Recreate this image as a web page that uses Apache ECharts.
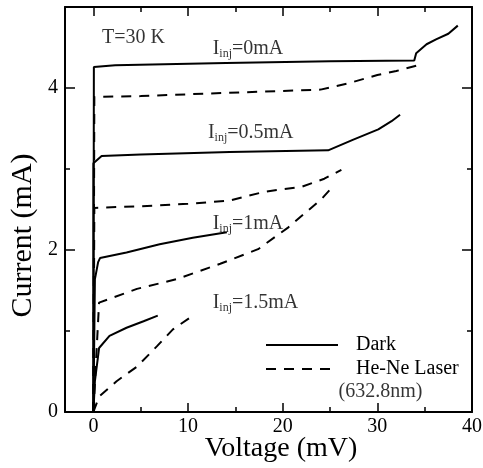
<!DOCTYPE html>
<html><head><meta charset="utf-8">
<script src="https://cdn.jsdelivr.net/npm/echarts@6/dist/echarts.min.js"></script>
<style>html,body{margin:0;padding:0;background:#fff}#c{width:483px;height:468px}</style>
</head><body><div id="c"></div>
<script>
// ---- tick values ----
const xMajorTicks = [0, 10, 20, 30, 40];
const xMinorTicks = [5, 15, 25, 35];
const yMajorTicks = [0, 2, 4];
const yMinorTicks = [1, 3, 5];

// ---- data: [voltage (mV), current (mA)] ----
const dark0 = [[0,0],[0.05,4.26],[2.3,4.28],[14,4.31],[25,4.33],[33.9,4.34],[34.1,4.43],[35.2,4.54],[36.2,4.60],[37.5,4.67],[38.5,4.77]];
const laser0 = [[0,0],[0.1,3.89],[5,3.90],[14,3.94],[24,3.98],[27,4.06],[30,4.16],[32,4.21],[34.3,4.28]];
const dark05 = [[0,0],[0,3.07],[0.87,3.16],[5,3.18],[14.4,3.21],[24.8,3.23],[27.4,3.36],[30.1,3.49],[31.5,3.59],[32.4,3.67]];
const laser05 = [[0,0],[0.1,2.52],[5,2.54],[10,2.57],[14.4,2.61],[18.1,2.72],[22,2.78],[24.4,2.88],[26.2,2.99]];
const dark1 = [[0,0],[0.16,1.64],[0.5,1.85],[0.7,1.90],[3.5,1.97],[7,2.07],[10.5,2.15],[14.1,2.22]];
const laser1 = [[0,0],[0.6,1.35],[4.6,1.52],[8.8,1.64],[13.4,1.83],[17.4,2.01],[20.6,2.28],[22.3,2.45],[24.1,2.63],[25.2,2.77]];
const dark15 = [[0,0],[0.16,0.38],[0.6,0.79],[1.7,0.94],[3.5,1.04],[5.3,1.12],[6.8,1.19]];
const laser15 = [[0,0],[0.6,0.19],[2.45,0.38],[4.6,0.56],[6.7,0.81],[8.4,1.02],[10.4,1.18]];

// ---- annotation texts (anchored in data coordinates) ----
const annotTexts = ['T=30 K', '{i|I}{s|inj}{t|=0mA}', '{i|I}{s|inj}{t|=0.5mA}', '{i|I}{s|inj}{t|=1mA}', '{i|I}{s|inj}{t|=1.5mA}', '(632.8nm)'];
const annotX = [0.9, 12.6, 12.1, 12.6, 12.6, 25.9];
const annotY = [4.62, 4.48, 3.45, 2.32, 1.35, 0.25];

const FONT = '"Liberation Serif", "DejaVu Serif", serif';
const BLACK = '#000';

function xAx(pos, ticks, len, showLine, showLabel, name) {
  const a = {
    type: 'value', min: -3, max: 40, position: pos, gridIndex: 0,
    axisLine: { show: showLine, onZero: false, lineStyle: { color: BLACK, width: 2 } },
    axisTick: { show: true, inside: true, length: len, customValues: ticks, lineStyle: { color: BLACK, width: 1.5 } },
    axisLabel: { show: showLabel, customValues: ticks, color: BLACK, fontSize: 20, fontFamily: FONT, margin: 5 },
    splitLine: { show: false }
  };
  if (name) {
    a.name = name; a.nameLocation = 'middle'; a.nameGap = 23; a.nameMoveOverlap = false;
    a.nameTextStyle = { color: BLACK, fontSize: 28, fontFamily: FONT, padding: [0, 0, 0, 25] };
  }
  return a;
}
function yAx(pos, ticks, len, showLine, showLabel, name) {
  const a = {
    type: 'value', min: 0, max: 5, position: pos, gridIndex: 0,
    axisLine: { show: showLine, onZero: false, lineStyle: { color: BLACK, width: 2 } },
    axisTick: { show: true, inside: true, length: len, customValues: ticks, lineStyle: { color: BLACK, width: 1.5 } },
    axisLabel: { show: showLabel, customValues: ticks, color: BLACK, fontSize: 20, fontFamily: FONT, margin: 7 },
    splitLine: { show: false }
  };
  if (name) {
    a.name = name; a.nameLocation = 'middle'; a.nameGap = 27; a.nameMoveOverlap = false;
    a.nameTextStyle = { color: BLACK, fontSize: 30, fontFamily: FONT, padding: [0, 52, 0, 0] };
  }
  return a;
}

function lineSeries(name, data, dashed) {
  return {
    type: 'line', name: name, data: data, xAxisIndex: 0, yAxisIndex: 0,
    showSymbol: false, symbol: 'none', smooth: false, animation: false,
    lineStyle: { color: BLACK, width: 2, type: dashed ? [10, 8] : 'solid' },
    itemStyle: { color: BLACK }
  };
}

const chart = echarts.init(document.getElementById('c'), null, { renderer: 'canvas' });
chart.setOption({
  backgroundColor: '#fff',
  animation: false,
  grid: { left: 65, right: 11, top: 7, bottom: 56, containLabel: false, outerBoundsMode: 'none' },
  xAxis: [
    xAx('bottom', xMajorTicks, 9, true, true, 'Voltage (mV)'),
    xAx('bottom', xMinorTicks, 5, false, false),
    xAx('top', xMajorTicks, 9, true, false),
    xAx('top', xMinorTicks, 5, false, false)
  ],
  yAxis: [
    yAx('left', yMajorTicks, 10, true, true, 'Current (mA)'),
    yAx('left', yMinorTicks, 5, false, false),
    yAx('right', yMajorTicks, 10, true, false),
    yAx('right', yMinorTicks, 5, false, false)
  ],
  legend: {
    orient: 'vertical', left: 260, top: 329, itemWidth: 72, itemHeight: 14, itemGap: 2,
    data: ['Dark', 'He-Ne Laser'], selectedMode: false,
    itemStyle: { color: 'rgba(0,0,0,0)', borderColor: 'rgba(0,0,0,0)', borderWidth: 0 },
    lineStyle: { color: BLACK, width: 2 },
    textStyle: { color: BLACK, fontSize: 20, fontFamily: FONT, lineHeight: 22, padding: [0, 0, 0, 13] }
  },
  series: [
    lineSeries('Dark', dark0, false),
    lineSeries('He-Ne Laser', laser0, true),
    lineSeries('Dark', dark05, false),
    lineSeries('He-Ne Laser', laser05, true),
    lineSeries('Dark', dark1, false),
    lineSeries('He-Ne Laser', laser1, true),
    lineSeries('Dark', dark15, false),
    lineSeries('He-Ne Laser', laser15, true),
    {
      type: 'scatter', name: 'annotations', xAxisIndex: 0, yAxisIndex: 0, symbolSize: 0, silent: true, animation: false,
      data: annotTexts.map((t, i) => ({ value: [annotX[i], annotY[i]], label: { formatter: t } })),
      label: {
        show: true, position: 'right', distance: 0, color: BLACK, fontSize: 20, fontFamily: FONT,
        rich: {
          i: { fontSize: 20, lineHeight: 22, fontFamily: FONT, color: BLACK },
          s: { fontSize: 12, lineHeight: 12, padding: [10, 0, 0, 0], fontFamily: FONT, color: BLACK },
          t: { fontSize: 20, lineHeight: 22, fontFamily: FONT, color: BLACK }
        }
      }
    }
  ]
});
</script></body></html>
